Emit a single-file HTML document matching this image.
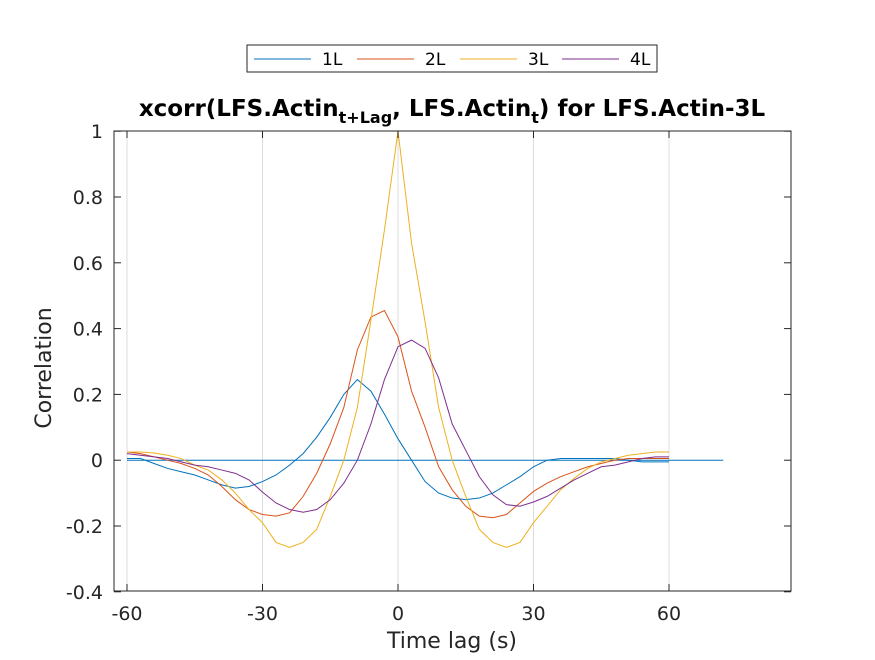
<!DOCTYPE html>
<html><head><meta charset="utf-8"><style>
body{margin:0;background:#fff;font-family:"DejaVu Sans",sans-serif}
</style></head><body>
<svg width="875" height="656" xmlns="http://www.w3.org/2000/svg" font-family="DejaVu Sans, Liberation Sans, sans-serif">
<g id="grid"></g>
<g id="series"></g>
<rect x="114" y="131" width="677" height="460" fill="none" stroke="#262626" stroke-width="1"/>
<g id="ticks"></g>
<text x="452" y="116" text-anchor="middle" font-size="23" font-weight="bold" fill="#000">xcorr(LFS.Actin<tspan font-size="16" dy="7">t+Lag</tspan><tspan dy="-7">, LFS.Actin</tspan><tspan font-size="16" dy="7">t</tspan><tspan dy="-7">) for LFS.Actin-3L</tspan></text>
<text x="452" y="648" text-anchor="middle" font-size="22" fill="#262626">Time lag (s)</text>
<text transform="translate(51,368) rotate(-90)" text-anchor="middle" font-size="22" fill="#262626">Correlation</text>
<g>
<rect x="247" y="45" width="410" height="27" fill="#fff" stroke="#262626"/>
<g id="legend-items"></g>
</g>
</svg>
<script>
const lags=[];for(let i=-60;i<=60;i+=3)lags.push(i);
const s1L=[0.005,0.005,-0.01,-0.025,-0.035,-0.045,-0.06,-0.075,-0.085,-0.08,-0.065,-0.045,-0.015,0.02,0.07,0.13,0.2,0.245,0.21,0.14,0.065,0.0,-0.065,-0.1,-0.115,-0.12,-0.115,-0.1,-0.075,-0.05,-0.02,0.0,0.005,0.005,0.005,0.005,0.005,0.0,-0.005,-0.005,-0.005];
const s2L=[0.025,0.02,0.01,0.0,-0.01,-0.025,-0.045,-0.08,-0.12,-0.15,-0.165,-0.17,-0.16,-0.11,-0.04,0.05,0.16,0.335,0.435,0.455,0.375,0.21,0.1,-0.02,-0.09,-0.14,-0.17,-0.175,-0.165,-0.13,-0.095,-0.07,-0.05,-0.035,-0.02,-0.01,0.0,0.005,0.005,0.005,0.005];
const s3L=[0.025,0.025,0.022,0.015,0.005,-0.015,-0.03,-0.06,-0.1,-0.15,-0.19,-0.25,-0.265,-0.25,-0.21,-0.11,0.0,0.16,0.425,0.7,1.0,0.66,0.42,0.16,0.0,-0.11,-0.21,-0.25,-0.265,-0.25,-0.19,-0.14,-0.09,-0.055,-0.025,-0.005,0.005,0.015,0.02,0.025,0.025];
const s4L=[0.02,0.015,0.01,0.005,-0.005,-0.015,-0.02,-0.03,-0.04,-0.06,-0.097,-0.13,-0.15,-0.158,-0.15,-0.12,-0.07,0.0,0.11,0.245,0.345,0.365,0.34,0.25,0.11,0.03,-0.05,-0.105,-0.135,-0.14,-0.127,-0.11,-0.085,-0.06,-0.04,-0.02,-0.015,-0.005,0.005,0.01,0.01];
const names=["1L","2L","3L","4L"];
const colors=["#0072BD","#D95319","#EDB120","#7E2F8E"];
const xTicks=[-60,-30,0,30,60];
const yTicks=[-0.4,-0.2,0,0.2,0.4,0.6,0.8,1];
const NS="http://www.w3.org/2000/svg";
const X=v=>398+v*(135.5/30);
const Y=v=>460.2-v*329;
function mk(t,a,p){const e=document.createElementNS(NS,t);for(const k in a)e.setAttribute(k,a[k]);p.appendChild(e);return e;}
const grid=document.getElementById('grid'),ticks=document.getElementById('ticks'),ser=document.getElementById('series');
xTicks.forEach(v=>{
 const g=mk('line',{x1:X(v),x2:X(v),y1:131,y2:591,stroke:'#dcdcdc','stroke-width':1},grid);
 
 
 mk('line',{x1:X(v),x2:X(v),y1:591,y2:584,stroke:'#262626'},ticks);
 mk('line',{x1:X(v),x2:X(v),y1:131,y2:138,stroke:'#262626'},ticks);
 const t=mk('text',{x:X(v),y:620,'text-anchor':'middle','font-size':19,fill:'#262626'},ticks);
 t.textContent=v;
 
 
});
yTicks.forEach(v=>{
 mk('line',{x1:114,x2:121,y1:Y(v),y2:Y(v),stroke:'#262626'},ticks);
 mk('line',{x1:791,x2:784,y1:Y(v),y2:Y(v),stroke:'#262626'},ticks);
 const t=mk('text',{x:103,y:Y(v)+7,'text-anchor':'end','font-size':19,fill:'#262626'},ticks);
 t.textContent=(Math.abs(v)<1e-9?0:v);
 
 
});
const zl=mk('line',{x1:X(-60),x2:X(72),y1:Y(0),y2:Y(0),stroke:colors[0],'stroke-width':1},ser);


[s1L,s2L,s3L,s4L].forEach((s,i)=>{
 const p=mk('polyline',{points:s.map((v,j)=>X(lags[j])+','+Y(v)).join(' '),fill:'none',stroke:colors[i],'stroke-width':1},ser);
 
 
});
const li=document.getElementById('legend-items');
const lx=[254,357,460,562];
names.forEach((n,i)=>{
 mk('line',{x1:lx[i],x2:lx[i]+57,y1:59,y2:59,stroke:colors[i]},li);
 const t=mk('text',{x:lx[i]+68,y:65,'font-size':17,fill:'#000'},li);
 t.textContent=n;
 
 
});
</script>
</body></html>
